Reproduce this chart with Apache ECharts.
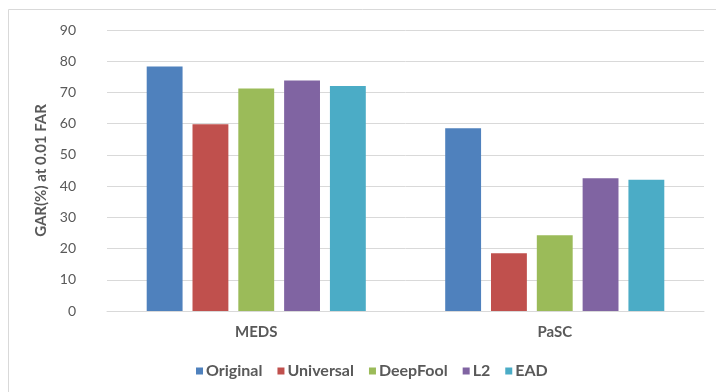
<!DOCTYPE html>
<html>
<head>
<meta charset="utf-8">
<script src="https://cdn.jsdelivr.net/npm/echarts@6/dist/echarts.min.js"></script>
<style>
  html, body { margin: 0; padding: 0; background: #fff; }
  #chart { width: 716px; height: 392px; }
</style>
</head>
<body>
<div id="chart"></div>
<script>
// Datasets on the x axis
const categories = ['MEDS', 'PaSC'];

// GAR (%) at 0.01 FAR per attack
const original  = [78.3, 58.5];
const universal = [59.8, 18.5];
const deepFool  = [71.3, 24.3];
const l2        = [73.8, 42.5];
const ead       = [72.1, 42.0];

const seriesNames = ['Original', 'Universal', 'DeepFool', 'L2', 'EAD'];
const seriesData = [original, universal, deepFool, l2, ead];
const colors = ['#4F81BD', '#C0504D', '#9BBB59', '#8064A2', '#4BACC6'];

const FONT = 'Lato, "Open Sans", sans-serif';
const chart = echarts.init(document.getElementById('chart'), null, { renderer: 'canvas' });

chart.setOption({
  animation: false,
  backgroundColor: '#ffffff',
  color: colors,
  graphic: [{
    type: 'rect',
    shape: { x: 8.5, y: 9.5, width: 740, height: 420 },
    style: { fill: 'none', stroke: '#d9d9d9', lineWidth: 1 },
    silent: true
  }],
  grid: { left: 107, right: 12, top: 30, height: 281, containLabel: false },
  legend: {
    left: 191,
    top: 358,
    itemWidth: 7,
    itemHeight: 7,
    itemGap: 15,
    icon: 'rect',
    textStyle: { fontFamily: FONT, fontWeight: 'bold', fontSize: 16, color: '#595959', padding: [0, 0, 0, -2] },
    data: seriesNames
  },
  xAxis: {
    type: 'category',
    data: categories,
    axisLine: { lineStyle: { color: '#d9d9d9', width: 1 } },
    axisTick: { show: false },
    axisLabel: { margin: 14, fontFamily: FONT, fontWeight: 'bold', fontSize: 15, color: '#595959' }
  },
  yAxis: {
    type: 'value',
    min: 0,
    max: 90,
    interval: 10,
    name: 'GAR(%) at 0.01 FAR',
    nameLocation: 'middle',
    nameRotate: 90,
    nameGap: 57,
    nameTextStyle: { fontFamily: FONT, fontWeight: 'bold', fontSize: 15, color: '#595959' },
    axisLine: { show: false },
    axisTick: { show: false },
    splitLine: { lineStyle: { color: '#d9d9d9', width: 1 } },
    axisLabel: { margin: 31, fontFamily: FONT, fontSize: 14, color: '#595959' }
  },
  series: seriesNames.map((name, i) => ({
    name: name,
    type: 'bar',
    data: seriesData[i],
    barGap: '27.7%',
    barCategoryGap: '26.6%',
    itemStyle: { color: colors[i] }
  }))
});
</script>
</body>
</html>
